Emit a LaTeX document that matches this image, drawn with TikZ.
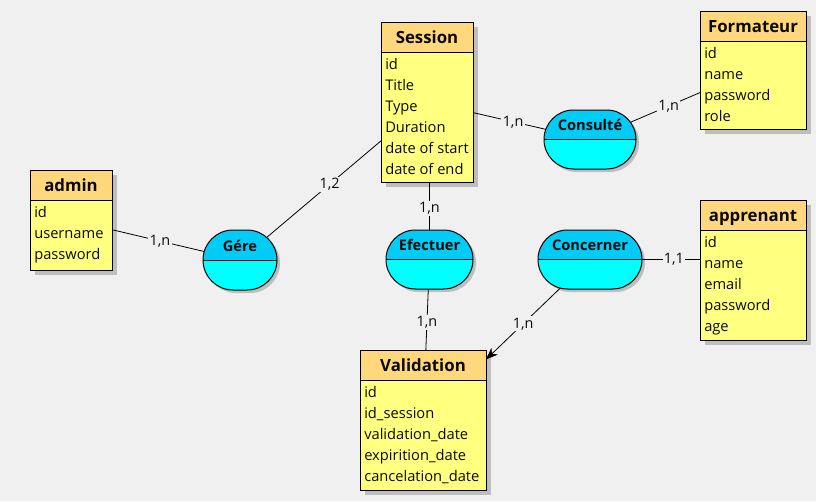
\documentclass[tikz,border=0pt]{standalone}
\usepackage{fontspec}
\setmainfont{Open Sans}
\usetikzlibrary{shapes.misc,shadows,fit,arrows.meta,calc}
\definecolor{bg}{RGB}{240,240,240}
\definecolor{enthead}{RGB}{255,215,125}
\definecolor{entbody}{RGB}{255,255,128}
\definecolor{reltop}{RGB}{0,204,245}
\definecolor{relbot}{RGB}{0,255,255}
\definecolor{shadowgray}{RGB}{190,190,190}
\definecolor{txt}{RGB}{10,10,10}
\tikzset{
  entbox/.style={draw, line width=0.75pt, fill=entbody, inner sep=0pt, outer sep=0pt,
    drop shadow={shadow xshift=3.75pt, shadow yshift=-3.75pt, fill=shadowgray, opacity=1}},
  enttitle/.style={anchor=base, font=\fontsize{12.6}{14}\selectfont\bfseries, text=txt, inner sep=0pt},
  entattr/.style={anchor=north west, align=left, inner xsep=3pt, inner ysep=0pt, text=txt,
    font=\fontsize{11}{15.75}\selectfont},
  relbox/.style={rounded rectangle, draw, line width=0.75pt, fill=relbot, inner sep=0pt, outer sep=0pt,
    drop shadow={shadow xshift=2.25pt, shadow yshift=-2.25pt, fill=shadowgray, opacity=1},
    path picture={\fill[reltop] (path picture bounding box.north west) rectangle (path picture bounding box.east);
      \draw[line width=0.75pt] (path picture bounding box.west) -- (path picture bounding box.east);}},
  reltitle/.style={anchor=base, font=\fontsize{11}{12}\selectfont\bfseries, text=txt, inner sep=0pt},
  conn/.style={draw=black, line width=0.6pt},
  card/.style={fill=bg, inner sep=1pt, pos=0.55, text=txt, font=\fontsize{10.8}{12}\selectfont},
}
\newcommand\erentity[7]{%
  \node[entbox, fit={(#2,#3) (#4,#5)}] (#1) {};
  \fill[enthead] (#1.north west) rectangle ([yshift=-22.5pt]#1.north east);
  \draw[line width=0.75pt] ([yshift=-22.5pt]#1.north west) -- ([yshift=-22.5pt]#1.north east);
  \draw[line width=0.75pt] (#1.north west) rectangle (#1.south east);
  \node[enttitle] at ([yshift=-16.2pt]#1.north) {#6};
  \node[entattr] at ([yshift=-27pt]#1.north west) {#7};
}
\begin{document}
\begin{tikzpicture}[x=0.75pt,y=-0.75pt]
\fill[bg] (0,0) rectangle (816,501);
\useasboundingbox (0,0) rectangle (816,501);

\erentity{session}{381}{22}{473}{182}{Session}{id\\Title\\Type\\Duration\\date of start\\date of end}
\erentity{formateur}{700}{11}{806}{129}{Formateur}{id\\name\\password\\role}
\erentity{admin}{30}{170}{112}{270}{admin}{id\\username\\password}
\erentity{apprenant}{700}{200}{806}{340}{apprenant}{id\\name\\email\\password\\age}
\erentity{validation}{360}{350}{486}{490}{Validation}{id\\id\_session\\validation\_date\\expirition\_date\\cancelation\_date}

\node[relbox, minimum width=55.5pt, minimum height=45pt] (gere) at (240,260) {};
\node[reltitle] at ($(gere.center)+(0,-9)$) {Gére};
\node[relbox, minimum width=69pt, minimum height=44.25pt] (consulte) at (590,139.5) {};
\node[reltitle] at ($(consulte.center)+(0,-9)$) {Consulté};
\node[relbox, minimum width=65.25pt, minimum height=44.25pt] (efectuer) at (429.5,259.5) {};
\node[reltitle] at ($(efectuer.center)+(0,-9)$) {Efectuer};
\node[relbox, minimum width=78pt, minimum height=44.25pt] (concerner) at (590,259.5) {};
\node[reltitle] at ($(concerner.center)+(0,-9)$) {Concerner};

\draw[conn] (admin) -- node[card, pos=0.52] {1,n} (gere);
\draw[conn] (gere) -- node[card] {1,2} (session);
\draw[conn] (session) -- node[card] {1,n} (consulte);
\draw[conn] (consulte) -- node[card] {1,n} (formateur);
\draw[conn] (efectuer.north |- session.south) -- node[card] {1,n} (efectuer.north);
\draw[conn] (efectuer) -- node[card] {1,n} (validation);
\draw[conn] (concerner.east) -- node[card] {1,1} (concerner.east -| apprenant.west);
\draw[conn, -{Stealth[length=9pt, width=7pt]}] (concerner) -- node[card, pos=0.5] {1,n} (validation);
\end{tikzpicture}
\end{document}
